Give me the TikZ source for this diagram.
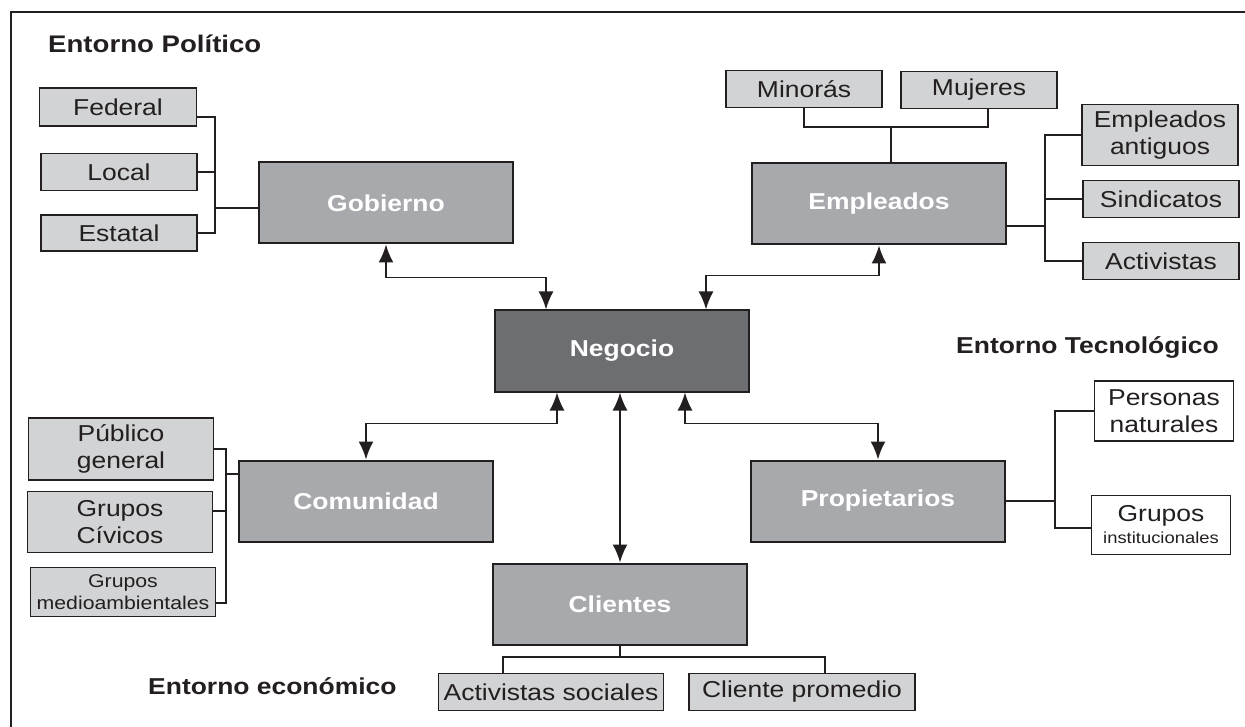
\documentclass[tikz,border=0pt]{standalone}
\usepackage{fontspec}
\setmainfont{Liberation Sans}[FakeStretch=1.15]
\usepackage{xcolor}
\usetikzlibrary{arrows.meta}
\definecolor{ink}{HTML}{231F20}
\definecolor{boxlight}{HTML}{D1D3D4}
\definecolor{boxmid}{HTML}{A7A9AC}
\definecolor{boxdark}{HTML}{6D6E71}

\begin{document}
\begin{tikzpicture}[x=1pt,y=-1pt,
  actor/.style={draw=ink,line width=2pt,fill=boxmid,text=white,inner sep=0pt,
    minimum width=254pt,minimum height=81pt,font=\fontsize{23}{27}\selectfont\bfseries},
  member/.style 2 args={draw=ink,line width=1.8pt,fill=boxlight,text=ink,inner sep=0pt,
    align=center,minimum width=#1pt,minimum height=#2pt,font=\fontsize{23}{27}\selectfont},
  heading/.style={anchor=base west,text=ink,inner sep=0pt,font=\fontsize{23}{27}\selectfont\bfseries},
  link/.style={draw=ink,line width=1.8pt},
  >={Latex[length=18pt,width=15pt]}]
  \useasboundingbox (0,0) rectangle (1245,727);
  \draw[ink,line width=1.6pt] (11,727) -- (11,12) -- (1245,12);

  \node[heading,font=\fontsize{24}{28}\selectfont\bfseries] (hpol) at (48,53) {Entorno Político};
  \node[heading] (htec) at (956,353) {Entorno Tecnológico};
  \node[heading] (heco) at (148,694) {Entorno económico};

  \node[actor,fill=boxdark] (neg) at (622,351) {Negocio};
  \node[actor] (gob) at (386,203) {Gobierno};
  \node[actor] (emp) at (879,204) {Empleados};
  \node[actor] (com) at (366,501) {Comunidad};
  \node[actor] (pro) at (878,501) {Propietarios};
  \node[actor] (cli) at (620,604) {Clientes};

  \node[member={157}{38}] (fed) at (118,107) {Federal};
  \node[member={156}{37}] (loc) at (119,172) {Local};
  \node[member={156}{36}] (est) at (119,233) {Estatal};
  \coordinate (gbus) at (215,208);
  \draw[link] ([yshift=-10pt]fed.east) -| (gbus |- est.east) -- (est.east);
  \draw[link] (loc.east) -- (loc.east -| gbus);
  \draw[link] (gbus) -- (gbus -| gob.west);

  \node[member={156}{37}] (min) at (804,89) {Minorás};
  \node[member={156}{37}] (muj) at (979,90) {Mujeres};
  \coordinate (tbus) at (891,127);
  \draw[link] (min.south) |- (tbus) -| ([xshift=9pt]muj.south);
  \draw[link] (tbus) -- (tbus |- emp.north);

  \node[member={156}{61}] (ant) at (1160,135) {Empleados\\antiguos};
  \node[member={156}{37}] (sin) at (1161,199) {Sindicatos};
  \node[member={156}{37}] (act) at (1161,261) {Activistas};
  \coordinate (ebus) at (1045,226);
  \draw[link] (ebus -| emp.east) -- (ebus);
  \draw[link] (ant.west) -| (ebus |- act.west) -- (act.west);
  \draw[link] (sin.west) -- (sin.west -| ebus);

  \node[member={185}{62}] (pub) at (121,449) {Público\\general};
  \node[member={185}{61}] (civ) at (120,522) {Grupos\\Cívicos};
  \node[member={185}{49},font=\fontsize{18.5}{21.5}\selectfont] (med) at (123,592) {Grupos\\medioambientales};
  \coordinate (cbus) at (226,474);
  \coordinate (cb1) at (226,603);
  \coordinate (cb2) at (226,511);
  \draw[link] (pub.east) -| (cb1) -- ([yshift=-11pt]med.east);
  \draw[link] ([yshift=11pt]civ.east) -- (cb2);
  \draw[link] (cbus) -- (cbus -| com.west);

  \node[member={139}{60},fill=white] (per) at (1164,411) {Personas\\naturales};
  \node[member={139}{59},fill=white] (gin) at (1161,525) {Grupos\\[-5pt]{\fontsize{16}{18}\selectfont institucionales}};
  \coordinate (pb2) at (1055,528);
  \draw[link] (per.west) -| (pb2) -- (pb2 -| gin.west);
  \draw[link] (pro.east) -- (pro.east -| pb2);

  \node[member={225}{37}] (acs) at (551,692) {Activistas sociales};
  \node[member={226}{37}] (cpr) at (802,692) {Cliente promedio};
  \coordinate (kb1) at (503,657);
  \coordinate (kb2) at (825,657);
  \draw[link] (cli.south) -- (cli.south |- kb1);
  \draw[link] (kb1 |- acs.north) -- (kb1) -- (kb2) -- (kb2 |- cpr.north);

  \draw[link,<->] (gob.south) -- ++(0,33) -| ([xshift=-76pt]neg.north);
  \draw[link,<->] (emp.south) -- ++(0,30) -| ([xshift=84pt]neg.north);
  \draw[link,<->] ([xshift=-65pt]neg.south) -- ++(0,31) -| (com.north);
  \draw[link,<->] ([xshift=63pt]neg.south) -- ++(0,31) -| (pro.north);
  \draw[link,<->] (neg.south -| cli.north) -- (cli.north);
\end{tikzpicture}
\end{document}
